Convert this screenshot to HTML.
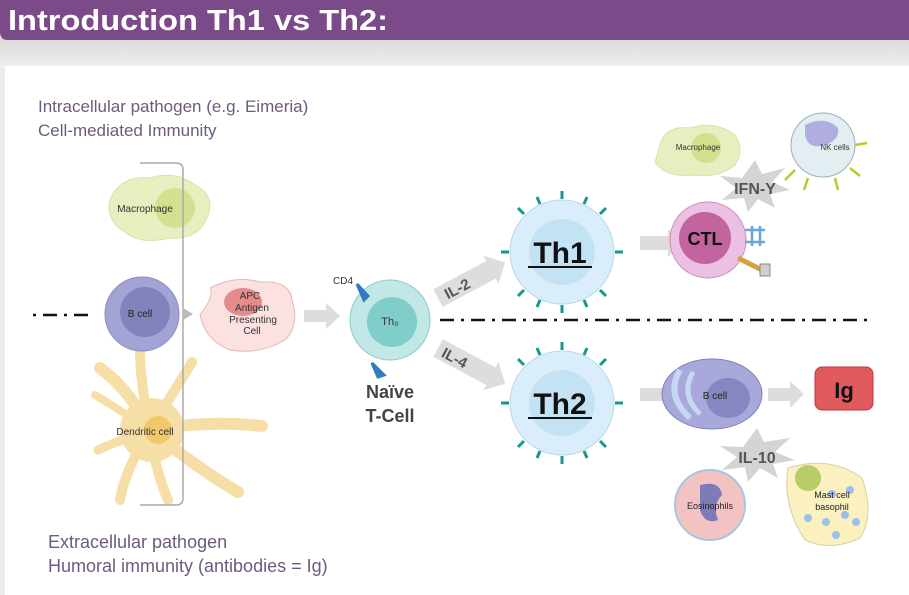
<!DOCTYPE html>
<html><head><meta charset="utf-8"><style>
html,body{margin:0;padding:0;background:#e9e9e9;}
svg{display:block;font-family:"Liberation Sans",sans-serif;}
</style></head><body>
<svg width="909" height="595" viewBox="0 0 909 595" xmlns="http://www.w3.org/2000/svg">
<defs>
<linearGradient id="g" x1="0" y1="0" x2="0" y2="1"><stop offset="0" stop-color="#d9d9d9"/><stop offset="1" stop-color="#f0f0f0"/></linearGradient>
</defs>
<rect width="909" height="595" fill="#ececec"/>
<rect x="0" y="38" width="909" height="30" fill="url(#g)"/>
<rect x="5" y="66" width="904" height="529" fill="#fff"/>
<path d="M0 0 H909 V40 H8 Q0 40 0 32 Z" fill="#7b4a88"/>
<text x="8" y="30" font-size="29" font-weight="bold" fill="#fff" textLength="380" lengthAdjust="spacingAndGlyphs">Introduction Th1 vs Th2:</text>

<text x="38" y="112" font-size="17" fill="#6e5a80">Intracellular pathogen (e.g. Eimeria)</text>
<text x="38" y="136" font-size="17" fill="#6e5a80">Cell-mediated Immunity</text>
<text x="48" y="548" font-size="18" fill="#6e5a80">Extracellular pathogen</text>
<text x="48" y="572" font-size="18" fill="#6e5a80">Humoral immunity (antibodies = Ig)</text>

<!-- left cells -->
<path d="M110 200 Q120 175 150 178 Q175 170 195 185 Q215 195 208 215 Q200 240 170 238 Q140 245 125 232 Q105 220 110 200Z" fill="#e6efbf" stroke="#d8e2a8"/>
<circle cx="175" cy="208" r="20" fill="#d5df90"/>
<text x="145" y="212" font-size="10" text-anchor="middle" fill="#333">Macrophage</text>
<g stroke="#f6dfa6" stroke-linecap="round" fill="none">
<path d="M150 430 Q130 390 100 368" stroke-width="12"/>
<path d="M150 430 Q140 380 140 352" stroke-width="10"/>
<path d="M150 430 Q175 390 192 362" stroke-width="10"/>
<path d="M150 430 Q210 420 262 426" stroke-width="12"/>
<path d="M150 430 Q200 470 238 492" stroke-width="12"/>
<path d="M150 430 Q155 470 168 500" stroke-width="10"/>
<path d="M150 430 Q125 470 120 500" stroke-width="10"/>
<path d="M150 430 Q120 440 98 450" stroke-width="9"/>
<path d="M150 430 Q120 410 95 395" stroke-width="8"/>
</g>
<circle cx="152" cy="430" r="32" fill="#f6dfa6"/>
<circle cx="158" cy="430" r="14" fill="#f2c86a"/>
<text x="145" y="435" font-size="10" text-anchor="middle" fill="#333">Dendritic cell</text>
<circle cx="142" cy="314" r="37" fill="#a3a3d6" stroke="#8e8ec4"/>
<circle cx="145" cy="312" r="25" fill="#8383bc"/>
<text x="140" y="317" font-size="10" text-anchor="middle" fill="#222">B cell</text>
<path d="M140 163 H176 Q183 163 183 170 V498 Q183 505 176 505 H140" fill="none" stroke="#aaa" stroke-width="1.5"/>
<path d="M183 308 L193 314 L183 320Z" fill="#bbb"/>
<path d="M200 315 Q215 295 210 288 Q235 275 260 282 Q290 280 292 300 Q300 325 285 340 Q260 355 230 350 Q205 340 200 315Z" fill="#fbe1e1" stroke="#e7b8b8"/>
<ellipse cx="243" cy="302" rx="19" ry="14" fill="#e58b8b"/>
<g font-size="10" text-anchor="middle" fill="#333"><text x="250" y="299">APC</text><text x="252" y="311">Antigen</text><text x="253" y="323">Presenting</text><text x="252" y="334">Cell</text></g>
<path d="M304 310 H326 V303 L340 316 L326 329 V322 H304Z" fill="#ddd"/>
<circle cx="390" cy="320" r="40" fill="#c1e7e7" stroke="#90c9c9"/>
<circle cx="392" cy="322" r="25" fill="#80cdca"/>
<text x="390" y="325" font-size="11" text-anchor="middle" fill="#333">Th₀</text>
<path d="M357 284 L368 296 L364 300 Z M372 363 L378 377 L384 375 Z" fill="#2f7cbf" stroke="#2f7cbf" stroke-width="3"/>
<text x="333" y="284" font-size="10" fill="#333">CD4</text>
<text x="390" y="398" font-size="18" font-weight="bold" text-anchor="middle" fill="#444">Naïve</text>
<text x="390" y="422" font-size="18" font-weight="bold" text-anchor="middle" fill="#444">T-Cell</text>

<!-- IL arrows -->
<g transform="translate(438,298) rotate(-28)"><path d="M0 -10 H60 V-16 L76 0 L60 16 V10 H0Z" fill="#ddd"/><text x="8" y="6" font-size="15" font-weight="bold" fill="#555">IL-2</text></g>
<g transform="translate(438,348) rotate(28)"><path d="M0 -10 H60 V-16 L76 0 L60 16 V10 H0Z" fill="#ddd"/><text x="6" y="6" font-size="15" font-weight="bold" fill="#555">IL-4</text></g>
<path d="M440 320 H870" stroke="#111" stroke-width="2.5" stroke-dasharray="14 7 3 7"/>
<path d="M33 315 H90" stroke="#111" stroke-width="2.5" stroke-dasharray="3 7 14 7"/>

<!-- Th1/Th2 -->
<g stroke="#139a8c" stroke-width="3">
<path d="M562 199 v-8 M562 305 v8 M509 252 h-8 M615 252 h8 M524 214 l-6 -6 M600 214 l6 -6 M524 290 l-6 6 M600 290 l6 6 M540 204 l-3 -7 M584 204 l3 -7 M540 300 l-3 7 M584 300 l3 7"/>
<path d="M562 350 v-8 M562 456 v8 M509 403 h-8 M615 403 h8 M524 365 l-6 -6 M600 365 l6 -6 M524 441 l-6 6 M600 441 l6 6 M540 355 l-3 -7 M584 355 l3 -7 M540 451 l-3 7 M584 451 l3 7"/>
</g>
<circle cx="562" cy="252" r="52" fill="#d9eefa" stroke="#b8d8ea"/>
<circle cx="562" cy="252" r="33" fill="#c3e3f5"/>
<circle cx="562" cy="403" r="52" fill="#d9eefa" stroke="#b8d8ea"/>
<circle cx="562" cy="403" r="33" fill="#c3e3f5"/>
<text x="560" y="263" font-size="30" font-weight="bold" text-anchor="middle" fill="#111">Th1</text>
<text x="560" y="414" font-size="30" font-weight="bold" text-anchor="middle" fill="#111">Th2</text>
<line x1="528" y1="267" x2="592" y2="267" stroke="#111" stroke-width="2"/>
<line x1="528" y1="418" x2="592" y2="418" stroke="#111" stroke-width="2"/>

<!-- right top -->
<path d="M660 145 Q665 125 690 128 Q715 120 735 135 Q745 150 735 165 Q720 178 695 175 Q665 178 655 162Z" fill="#e6efbf" stroke="#d8e2a8"/>
<circle cx="706" cy="148" r="15" fill="#d5df90"/>
<text x="698" y="150" font-size="8" text-anchor="middle" fill="#333">Macrophage</text>
<g stroke="#b5cc2a" stroke-width="2.5" fill="none"><path d="M795 170 l-10 10 M808 178 l-4 12 M835 178 l3 12 M850 168 l10 8 M855 145 l12 -2"/></g>
<circle cx="823" cy="145" r="32" fill="#e3eef2" stroke="#9cb0b8"/>
<path d="M805 125 Q825 115 838 128 Q840 140 825 145 Q808 150 805 135Z" fill="#b0aee0"/>
<text x="835" y="150" font-size="8" text-anchor="middle" fill="#333">NK cells</text>
<polygon points="755,160 762,174 785,168 772,182 790,190 770,194 775,208 758,199 748,212 744,198 722,200 736,188 720,176 742,178" fill="#d4d4d4"/>
<text x="755" y="194" font-size="16" font-weight="bold" text-anchor="middle" fill="#555">IFN-Y</text>
<path d="M640 236 H668 V229 L684 243 L668 257 V250 H640Z" fill="#ddd"/>
<circle cx="708" cy="240" r="38" fill="#ecc0e2" stroke="#c88cb8"/>
<circle cx="705" cy="238" r="26" fill="#c2649e"/>
<text x="705" y="245" font-size="18" font-weight="bold" text-anchor="middle" fill="#111">CTL</text>
<path d="M745 230 h20 M745 242 h20 M752 226 v20 M760 226 v20" stroke="#6aa6d6" stroke-width="2.5"/>
<path d="M738 258 L762 270" stroke="#d4a040" stroke-width="5"/>
<rect x="760" y="264" width="10" height="12" fill="#c8d2c8" stroke="#888"/>

<!-- right bottom -->
<path d="M640 388 H668 V381 L684 394 L668 408 V401 H640Z" fill="#ddd"/>
<ellipse cx="712" cy="394" rx="50" ry="35" fill="#a8a8da" stroke="#8080bc"/>
<path d="M680 370 Q665 395 690 418" stroke="#c4d8f2" stroke-width="6" fill="none"/>
<path d="M693 372 Q680 395 700 414" stroke="#c4d8f2" stroke-width="5" fill="none"/>
<ellipse cx="728" cy="398" rx="22" ry="20" fill="#8686c0"/>
<text x="715" y="399" font-size="10" text-anchor="middle" fill="#222">B cell</text>
<path d="M768 388 H790 V381 L804 394 L790 408 V401 H768Z" fill="#ddd"/>
<rect x="815" y="367" width="58" height="43" rx="7" fill="#e05a5e" stroke="#b83a3e"/>
<text x="844" y="398" font-size="22" font-weight="bold" text-anchor="middle" fill="#111">Ig</text>
<polygon points="757,428 764,442 790,438 775,452 795,460 773,464 778,478 760,468 748,482 745,467 722,470 737,457 720,446 743,447" fill="#d4d4d4"/>
<text x="757" y="463" font-size="16" font-weight="bold" text-anchor="middle" fill="#555">IL-10</text>
<circle cx="710" cy="505" r="35" fill="#f3c3c3" stroke="#a6c6e0" stroke-width="2"/>
<path d="M700 485 Q720 480 722 495 Q712 505 718 520 Q705 525 700 510Z" fill="#7c7cb8"/>
<text x="710" y="509" font-size="9" text-anchor="middle" fill="#222">Eosinophils</text>
<path d="M788 468 Q830 455 862 478 Q875 515 860 538 Q830 552 805 540 Q782 505 788 468Z" fill="#fbf0c0" stroke="#d8d0a0"/>
<circle cx="808" cy="478" r="13" fill="#b8cc6a"/>
<g fill="#9cc0ec"><circle cx="832" cy="494" r="4"/><circle cx="850" cy="490" r="4"/><circle cx="808" cy="518" r="4"/><circle cx="826" cy="522" r="4"/><circle cx="845" cy="515" r="4"/><circle cx="856" cy="522" r="4"/><circle cx="836" cy="535" r="4"/></g>
<text x="832" y="498" font-size="9" text-anchor="middle" fill="#222">Mast cell</text>
<text x="832" y="510" font-size="9" text-anchor="middle" fill="#222">basophil</text>
</svg>
</body></html>
